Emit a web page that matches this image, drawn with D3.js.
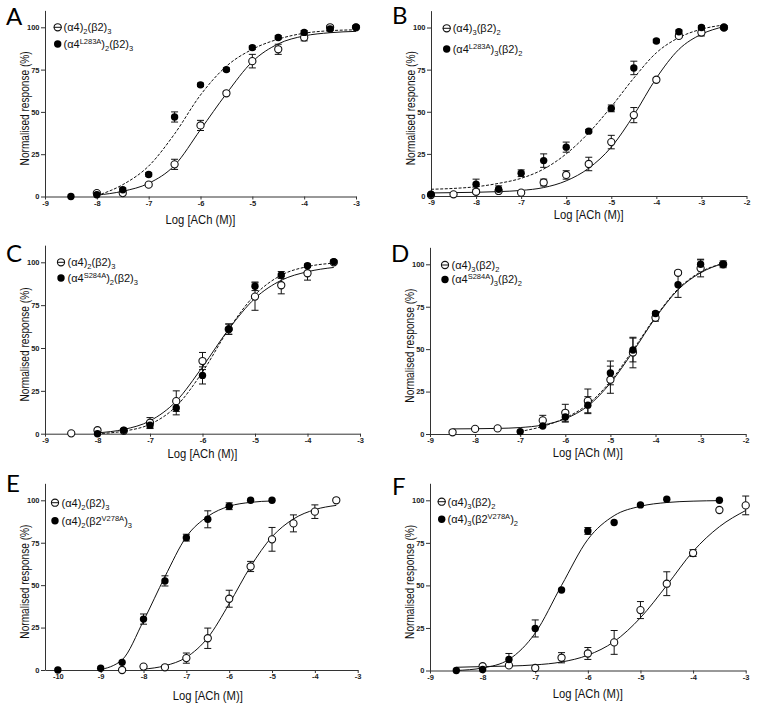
<!DOCTYPE html>
<html><head><meta charset="utf-8">
<script src="https://cdn.jsdelivr.net/npm/d3@7"></script>
<style>body{margin:0;background:#fff} svg{display:block}</style>
</head><body>
<svg id="c" width="763" height="707"></svg>
<script>
// ================= DATA =================
const yTicks = [0, 25, 50, 75, 100];
const xTicks9to3 = [-9, -8, -7, -6, -5, -4, -3];
const xTicks9to2 = [-9, -8, -7, -6, -5, -4, -3, -2];
const xTicks10to3 = [-10, -9, -8, -7, -6, -5, -4, -3];

// ---- Panel A ----
const A_open_x = [-8, -7.5, -7, -6.5, -6, -5.5, -5, -4.5, -4, -3.5, -3];
const A_open_y = [2, 2, 7, 19, 42, 61, 80, 87, 94, 100, 100];
const A_open_e = [1, 1, 1, 3, 3, 1, 4, 3, 2, 1, 1];
const A_fill_x = [-8.5, -8, -7.5, -7, -6.5, -6, -5.5, -5, -4.5, -4, -3.5, -3];
const A_fill_y = [0, 1, 4, 13, 47, 66, 75, 88, 94, 97, 99, 100];
const A_fill_e = [0, 0, 1, 1, 3, 1, 1, 1, 1, 1, 1, 0];
const A_fitOpen_x = [-8, -7.5, -7, -6.5, -6, -5.5, -5, -4.5, -4, -3.5, -3];
const A_fitOpen_y = [0.8, 3.1, 7.8, 18.4, 39.5, 60.8, 79.7, 90.2, 94.9, 96.8, 97.6];
const A_fitFill_x = [-8, -7.5, -7, -6.5, -6, -5.5, -5, -4.5, -4, -3.5, -3];
const A_fitFill_y = [0.5, 7, 18, 37, 60, 77, 87, 93, 96.5, 98, 98.5];
const A_leg_open = [["(α4)"], ["2", "sub"], ["(β2)"], ["3", "sub"]];
const A_leg_fill = [["(α4"], ["L283A", "sup"], [")"], ["2", "sub"], ["(β2)"], ["3", "sub"]];

// ---- Panel B ----
const B_open_x = [-9, -8.5, -8, -7.5, -7, -6.5, -6, -5.5, -5, -4.5, -4, -3.5, -3, -2.5];
const B_open_y = [0.6, 1, 2.5, 3, 2, 8, 12.5, 19, 32, 48, 69, 95, 97, 100];
const B_open_e = [0, 0, 1, 1, 0, 2, 2.5, 4, 4, 4.5, 1, 1, 2, 1];
const B_fill_x = [-9, -8, -7.5, -7, -6.5, -6, -5.5, -5, -4.5, -4, -3.5, -3, -2.5];
const B_fill_y = [1, 7, 4, 13.5, 21, 29, 38.5, 52, 76, 92, 97.5, 100, 100];
const B_fill_e = [0, 3, 2, 2, 4, 3, 1, 2, 4, 1, 1, 1, 1];
const B_fitOpen_x = [-9, -8.5, -8, -7.5, -7, -6.5, -6, -5.5, -5, -4.5, -4, -3.5, -3, -2.5];
const B_fitOpen_y = [1.8, 2.0, 2.2, 2.6, 3.3, 5, 9, 16.5, 29, 48, 70, 87, 96, 100.5];
const B_fitFill_x = [-9, -8.5, -8, -7.5, -7, -6.5, -6, -5.5, -5, -4.5, -4, -3.5, -3, -2.5];
const B_fitFill_y = [4, 4.5, 5.5, 7.5, 10.5, 16, 25, 37.5, 53, 70, 85, 94, 99, 101.5];
const B_leg_open = [["(α4)"], ["3", "sub"], ["(β2)"], ["2", "sub"]];
const B_leg_fill = [["(α4"], ["L283A", "sup"], [")"], ["3", "sub"], ["(β2)"], ["2", "sub"]];

// ---- Panel C ----
const C_open_x = [-8.5, -8, -7.5, -7, -6.5, -6, -5.5, -5, -4.5, -4, -3.5];
const C_open_y = [0.2, 2, 1.7, 6.4, 19, 42.4, 61, 80, 86.6, 93.6, 100];
const C_open_e = [0, 1, 0, 3, 6, 5, 3, 8, 5, 4, 1];
const C_fill_x = [-8, -7.5, -7, -6.5, -6, -5.5, -5, -4.5, -4, -3.5];
const C_fill_y = [0, 2, 5, 15, 34, 61, 86, 92.6, 98, 100.4];
const C_fill_e = [0, 1, 2, 4, 5, 3, 2.5, 2, 1, 1];
const C_fitOpen_x = [-8, -7.5, -7, -6.5, -6, -5.5, -5, -4.5, -4, -3.5];
const C_fitOpen_y = [0.5, 2.5, 7.5, 19, 39, 61, 79, 89.5, 94.5, 97];
const C_fitFill_x = [-8, -7.5, -7, -6.5, -6, -5.5, -5, -4.5, -4, -3.5];
const C_fitFill_y = [0, 1.5, 5.5, 16, 36, 61, 81, 92.5, 97.5, 99.5];
const C_leg_open = [["(α4)"], ["2", "sub"], ["(β2)"], ["3", "sub"]];
const C_leg_fill = [["(α4"], ["S284A", "sup"], [")"], ["2", "sub"], ["(β2)"], ["3", "sub"]];

// ---- Panel D ----
const D_open_x = [-8.5, -8, -7.5, -6.5, -6, -5.5, -5, -4.5, -4, -3.5, -3, -2.5];
const D_open_y = [1, 3, 3.3, 8, 12.5, 19.5, 32, 48, 68.5, 95, 97.6, 100];
const D_open_e = [0, 0, 0, 3, 5, 7, 8, 9, 2, 1, 5, 1];
const D_fill_x = [-7, -6.5, -6, -5.5, -5, -4.5, -4, -3.5, -3, -2.5];
const D_fill_y = [1.4, 4.7, 10, 17, 36, 49.5, 71, 88, 100, 100];
const D_fill_e = [0, 0, 3, 5, 7, 7, 1, 7.5, 3, 2];
const D_fitOpen_x = [-8.5, -8, -7.5, -7, -6.5, -6, -5.5, -5, -4.5, -4, -3.5, -3, -2.5];
const D_fitOpen_y = [3, 3.1, 3.3, 3.8, 5.3, 9, 16.5, 30, 48.5, 68.5, 85, 95, 100.5];
const D_fitFill_x = [-7, -6.5, -6, -5.5, -5, -4.5, -4, -3.5, -3, -2.5];
const D_fitFill_y = [1.5, 4.5, 9.5, 17.5, 31, 49.5, 69, 85.5, 95.5, 100.5];
const D_leg_open = [["(α4)"], ["3", "sub"], ["(β2)"], ["2", "sub"]];
const D_leg_fill = [["(α4"], ["S284A", "sup"], [")"], ["3", "sub"], ["(β2)"], ["2", "sub"]];

// ---- Panel E ----
const E_open_x = [-8.5, -8, -7.5, -7, -6.5, -6, -5.5, -5, -4.5, -4, -3.5];
const E_open_y = [0, 2, 1.6, 7, 18.7, 42, 61, 77, 86.4, 93.3, 100];
const E_open_e = [0, 0, 0, 3, 6, 5, 3, 7, 5, 4, 0];
const E_fill_x = [-10, -9, -8.5, -8, -7.5, -7, -6.5, -6, -5.5, -5];
const E_fill_y = [0, 1, 4.5, 30, 52.5, 78, 88.8, 96.5, 100, 100];
const E_fill_e = [0, 0, 0, 3, 3, 2, 5, 2, 0, 0];
const E_fitOpen_x = [-8, -7.5, -7, -6.5, -6, -5.5, -5, -4.5, -4, -3.5];
const E_fitOpen_y = [0.5, 2.5, 7.5, 19, 39, 61, 78.5, 89, 94.5, 97];
const E_fitFill_x = [-9.05, -8.5, -8, -7.5, -7, -6.5, -6, -5.5, -5];
const E_fitFill_y = [0, 6, 29, 55, 78.5, 90.5, 96.5, 98.8, 99.6];
const E_leg_open = [["(α4)"], ["2", "sub"], ["(β2)"], ["3", "sub"]];
const E_leg_fill = [["(α4)"], ["2", "sub"], ["(β2"], ["V278A", "sup"], [")"], ["3", "sub"]];

// ---- Panel F ----
const F_open_x = [-8, -7.5, -7, -6.5, -6, -5.5, -5, -4.5, -4, -3.5, -3];
const F_open_y = [2.5, 3, 1.5, 7.5, 10, 16.5, 35.5, 51, 69, 94.3, 97];
const F_open_e = [0, 0, 0, 3, 3.5, 7, 5, 7, 2, 0, 5.5];
const F_fill_x = [-8.5, -8, -7.5, -7, -6.5, -6, -5.5, -5, -4.5, -3.5];
const F_fill_y = [0, 0.6, 6.5, 24.7, 47.3, 82, 87, 97.3, 100.6, 100];
const F_fill_e = [0, 0, 3.5, 5, 0, 2, 0, 0, 0, 0];
const F_fitOpen_x = [-8.5, -8, -7.5, -7, -6.5, -6, -5.5, -5, -4.5, -4, -3.5, -3];
const F_fitOpen_y = [1.9, 2.3, 2.6, 3.3, 5, 9, 17, 31, 50, 70, 84.5, 94];
const F_fitFill_x = [-8.5, -8, -7.5, -7, -6.5, -6, -5.5, -5, -4.5, -4, -3.5];
const F_fitFill_y = [0, 1.5, 6.5, 22, 50, 77, 91, 96.5, 98.7, 99.5, 99.8];
const F_leg_open = [["(α4)"], ["3", "sub"], ["(β2)"], ["2", "sub"]];
const F_leg_fill = [["(α4)"], ["3", "sub"], ["(β2"], ["V278A", "sup"], [")"], ["2", "sub"]];

const yTitle = "Normalised response (%)";
const xTitle = "Log [ACh (M)]";

// ================= DRAWING =================
const FONT = "'Liberation Sans', Arial, Helvetica, sans-serif";
const svg = d3.select("#c");
const zip3 = (a, b, c) => a.map((v, i) => [v, b[i], c ? c[i] : 0]);

const panels = [
  {letter: "A", lx: 6, ly: 24.5, left: 45, right: 356, bottom: 196.5, y100: 27.3, xdom: [-9, -3], xticks: xTicks9to3, xlabX: -6, xlabDy: 27.5,
   open: zip3(A_open_x, A_open_y, A_open_e), fill: zip3(A_fill_x, A_fill_y, A_fill_e),
   fitOpen: zip3(A_fitOpen_x, A_fitOpen_y), fitFill: zip3(A_fitFill_x, A_fitFill_y), fillDashed: true,
   leg: {mx: 57.7, y1: 27.3, y2: 44, tx: 63.5}, legOpen: A_leg_open, legFill: A_leg_fill},
  {letter: "B", lx: 392, ly: 24, left: 431, right: 746.5, bottom: 196, y100: 27.5, xdom: [-9, -2], xticks: xTicks9to2, xlabX: -5.5, xlabDy: 22.5,
   open: zip3(B_open_x, B_open_y, B_open_e), fill: zip3(B_fill_x, B_fill_y, B_fill_e),
   fitOpen: zip3(B_fitOpen_x, B_fitOpen_y), fitFill: zip3(B_fitFill_x, B_fitFill_y), fillDashed: true,
   leg: {mx: 446.7, y1: 28.3, y2: 49, tx: 452.7}, legOpen: B_leg_open, legFill: B_leg_fill},
  {letter: "C", lx: 6, ly: 262, left: 45, right: 360, bottom: 433.7, y100: 262.3, xdom: [-9, -3], xticks: xTicks9to3, xlabX: -6, xlabDy: 24.5,
   open: zip3(C_open_x, C_open_y, C_open_e), fill: zip3(C_fill_x, C_fill_y, C_fill_e),
   fitOpen: zip3(C_fitOpen_x, C_fitOpen_y), fitFill: zip3(C_fitFill_x, C_fitFill_y), fillDashed: true,
   leg: {mx: 61, y1: 262.3, y2: 278, tx: 67.5}, legOpen: C_leg_open, legFill: C_leg_fill},
  {letter: "D", lx: 391, ly: 262, left: 430, right: 745.7, bottom: 434, y100: 264.3, xdom: [-9, -2], xticks: xTicks9to2, xlabX: -5.5, xlabDy: 22.5,
   open: zip3(D_open_x, D_open_y, D_open_e), fill: zip3(D_fill_x, D_fill_y, D_fill_e),
   fitOpen: zip3(D_fitOpen_x, D_fitOpen_y), fitFill: zip3(D_fitFill_x, D_fitFill_y), fillDashed: true,
   leg: {mx: 445, y1: 265, y2: 279.5, tx: 451.5}, legOpen: D_leg_open, legFill: D_leg_fill},
  {letter: "E", lx: 6, ly: 492, left: 45, right: 357.7, bottom: 670, y100: 500.3, xdom: [-10.3, -3], xticks: xTicks10to3, xlabX: -6.5, xlabDy: 29.5,
   open: zip3(E_open_x, E_open_y, E_open_e), fill: zip3(E_fill_x, E_fill_y, E_fill_e),
   fitOpen: zip3(E_fitOpen_x, E_fitOpen_y), fitFill: zip3(E_fitFill_x, E_fitFill_y), fillDashed: false,
   leg: {mx: 55, y1: 502.7, y2: 520.7, tx: 61.5}, legOpen: E_leg_open, legFill: E_leg_fill},
  {letter: "F", lx: 392, ly: 495, left: 430, right: 745.7, bottom: 670.5, y100: 500.3, xdom: [-9, -3], xticks: xTicks9to3, xlabX: -6, xlabDy: 27.5,
   open: zip3(F_open_x, F_open_y, F_open_e), fill: zip3(F_fill_x, F_fill_y, F_fill_e),
   fitOpen: zip3(F_fitOpen_x, F_fitOpen_y), fitFill: zip3(F_fitFill_x, F_fitFill_y), fillDashed: false,
   leg: {mx: 441.7, y1: 501.7, y2: 519.3, tx: 447.5}, legOpen: F_leg_open, legFill: F_leg_fill}
];

function richText(sel, segs, x, y) {
  const t = sel.append("text").attr("x", x).attr("y", y)
    .attr("font-family", FONT).attr("font-size", 11).attr("fill", "#111");
  let cur = 0;
  segs.forEach(s => {
    const kind = s[1] || "";
    const target = kind === "sub" ? 3 : kind === "sup" ? -4 : 0;
    t.append("tspan").attr("dy", target - cur)
      .attr("font-size", kind ? 7.5 : 11).text(s[0]);
    cur = target;
  });
}

function drawPanel(p) {
  const g = svg.append("g");
  const x = d3.scaleLinear().domain(p.xdom).range([p.left, p.right]);
  const y = d3.scaleLinear().domain([0, 100]).range([p.bottom, p.y100]);
  const yAx = d3.scaleLinear().domain([0, 110]).range([p.bottom, y(110)]);

  // axes
  const xa = d3.axisBottom(x).tickValues(p.xticks).tickFormat(d => String(d))
    .tickSize(3).tickPadding(1).tickSizeOuter(0);
  const ya = d3.axisLeft(yAx).tickValues(yTicks).tickFormat(d => String(d))
    .tickSize(4).tickPadding(1.5).tickSizeOuter(0);
  const gx = g.append("g").attr("transform", `translate(0,${p.bottom})`).call(xa);
  const gy = g.append("g").attr("transform", `translate(${p.left},0)`).call(ya);
  [gx, gy].forEach(a => {
    a.selectAll(".domain, .tick line").attr("stroke", "#333").attr("stroke-width", 1);
    a.selectAll("text").attr("font-family", FONT).attr("font-size", 7.5)
      .attr("font-weight", "bold").attr("fill", "#222");
  });

  // titles
  g.append("text").attr("x", x(p.xlabX)).attr("y", p.bottom + p.xlabDy)
    .attr("text-anchor", "middle").attr("font-family", FONT).attr("font-size", 12.5)
    .attr("fill", "#111").attr("textLength", 70).attr("lengthAdjust", "spacingAndGlyphs").text(xTitle);
  g.append("text").attr("transform", `translate(${p.left - 16},${y(50) - 3.5}) rotate(-90)`)
    .attr("text-anchor", "middle").attr("font-family", FONT).attr("font-size", 12.5)
    .attr("fill", "#111").attr("textLength", 114).attr("lengthAdjust", "spacingAndGlyphs").text(yTitle);

  // panel letter
  g.append("text").attr("x", p.lx).attr("y", p.ly).attr("font-family", "Lato, 'Open Sans', sans-serif")
    .attr("font-size", 24).attr("fill", "#000").text(p.letter);

  // fitted curves
  const line = d3.line().x(d => x(d[0])).y(d => y(d[1])).curve(d3.curveMonotoneX);
  g.append("path").attr("d", line(p.fitOpen)).attr("fill", "none").attr("stroke", "#111").attr("stroke-width", 1);
  g.append("path").attr("d", line(p.fitFill)).attr("fill", "none").attr("stroke", "#111").attr("stroke-width", 1)
    .attr("stroke-dasharray", p.fillDashed ? "3,1.6" : null);

  // error bars
  const cap = 3.5;
  [p.open, p.fill].forEach(ser => {
    const eb = g.append("g").attr("stroke", "#111").attr("stroke-width", 1);
    ser.filter(d => d[2] > 0).forEach(d => {
      const cx = x(d[0]), y1 = y(d[1] - d[2]), y2 = y(d[1] + d[2]);
      eb.append("line").attr("x1", cx).attr("x2", cx).attr("y1", y1).attr("y2", y2);
      eb.append("line").attr("x1", cx - cap).attr("x2", cx + cap).attr("y1", y1).attr("y2", y1);
      eb.append("line").attr("x1", cx - cap).attr("x2", cx + cap).attr("y1", y2).attr("y2", y2);
    });
  });

  // markers
  g.append("g").selectAll("circle").data(p.open).join("circle")
    .attr("cx", d => x(d[0])).attr("cy", d => y(d[1])).attr("r", 3.6)
    .attr("fill", "#fff").attr("stroke", "#111").attr("stroke-width", 1.1);
  g.append("g").selectAll("circle").data(p.fill).join("circle")
    .attr("cx", d => x(d[0])).attr("cy", d => y(d[1])).attr("r", 3.7)
    .attr("fill", "#000");

  // legend
  const L = p.leg;
  g.append("line").attr("x1", L.mx - 4).attr("x2", L.mx + 4).attr("y1", L.y1).attr("y2", L.y1)
    .attr("stroke", "#111").attr("stroke-width", 1);
  g.append("circle").attr("cx", L.mx).attr("cy", L.y1).attr("r", 3.6)
    .attr("fill", "none").attr("stroke", "#111").attr("stroke-width", 1.1);
  g.append("circle").attr("cx", L.mx).attr("cy", L.y2).attr("r", 3.7).attr("fill", "#000");
  richText(g, p.legOpen, L.tx, L.y1 + 3.8);
  richText(g, p.legFill, L.tx, L.y2 + 3.8);
}

panels.forEach(drawPanel);
</script>
</body></html>
